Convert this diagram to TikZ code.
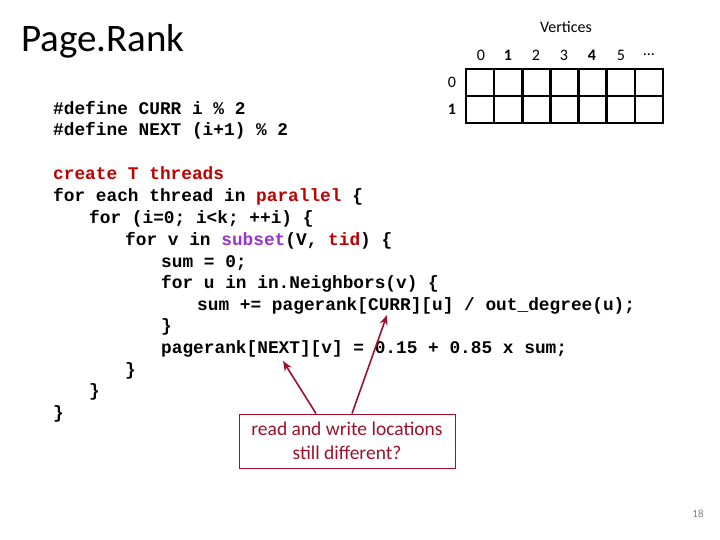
\documentclass[tikz,border=0pt]{standalone}
\usepackage{fontspec}
\setmainfont{Carlito}
\newfontfamily\codefont{Liberation Mono}
\usetikzlibrary{arrows.meta}
\definecolor{kw}{HTML}{C00000}
\definecolor{pur}{HTML}{9933CC}
\definecolor{drk}{HTML}{A0102A}
\begin{document}
\begin{tikzpicture}[x=1pt,y=-1pt,
  code/.style={anchor=base west,inner sep=0,font=\codefont\bfseries\fontsize{17.8}{20}\selectfont},
  lab/.style={inner sep=0,font=\fontsize{16}{18}\selectfont},
  cell/.style={draw,line width=2.6pt}]
\useasboundingbox (0,0) rectangle (720,540);
\node[anchor=base west,inner sep=0,font=\fontsize{39}{44}\selectfont] (title) at (21,52) {Page.Rank};
\node[lab] (vert) at (566,27) {Vertices};
\foreach \i/\x/\t in {0/481/0,1/508/{\bfseries 1},2/536/2,3/564/3,4/592/{\bfseries 4},5/621/5,6/649/\dots}
  \node[lab] (c\i) at (\x,55) {\t};
\node[lab] (r0) at (452,82) {0};
\node[lab] (r1) at (452,109) {\bfseries 1};
\draw[line width=2.6pt] (466,69) rectangle (663,123);
\draw[line width=2.6pt] (466,96) -- (663,96);
\foreach \k in {1,...,6} \draw[line width=2.6pt] (466+\k*28.14,69) -- (466+\k*28.14,123);
\node[code] (l1) at (53,115) {\#define CURR i \% 2};
\node[code] (l2) at (53,136) {\#define NEXT (i+1) \% 2};
\node[code] (l3) at (53,180) {\textcolor{kw}{create T threads}};
\node[code] (l4) at (53,202) {for each thread in \textcolor{kw}{parallel} \{};
\node[code] (l5) at (89,223) {for (i=0; i<k; ++i) \{};
\node[code] (l6) at (125,245) {for v in \textcolor{pur}{subset}(V, \textcolor{kw}{tid}) \{};
\node[code] (l7) at (161,267) {sum = 0;};
\node[code] (l8) at (161,288) {for u in in.Neighbors(v) \{};
\node[code] (l9) at (197,310) {sum += pagerank[CURR][u] / out\_degree(u);};
\node[code] (l10) at (161,331) {\}};
\node[code] (l11) at (161,353) {pagerank[NEXT][v] = 0.15 + 0.85 x sum;};
\node[code] (l12) at (125,375) {\}};
\node[code] (l13) at (89,396) {\}};
\node[code] (l14) at (53,418) {\}};
\node[draw=drk,line width=1pt,minimum width=216pt,minimum height=54pt,align=center,
  text=drk,font=\fontsize{19.5}{24}\selectfont,inner sep=0] (box) at (347,441)
  {read and write locations\\still different?};
\coordinate (t1) at (283,361);
\coordinate (t2) at (387,315);
\draw[drk,line width=1.6pt,-{Stealth[length=10pt,width=8pt]}] (box.north -| 316,0) -- (t1);
\draw[drk,line width=1.6pt,-{Stealth[length=10pt,width=8pt]}] (box.north -| 352,0) -- (t2);
\node[inner sep=0,text=gray,font=\fontsize{11}{12}\selectfont] (pg) at (698,514) {18};
\end{tikzpicture}
\end{document}
